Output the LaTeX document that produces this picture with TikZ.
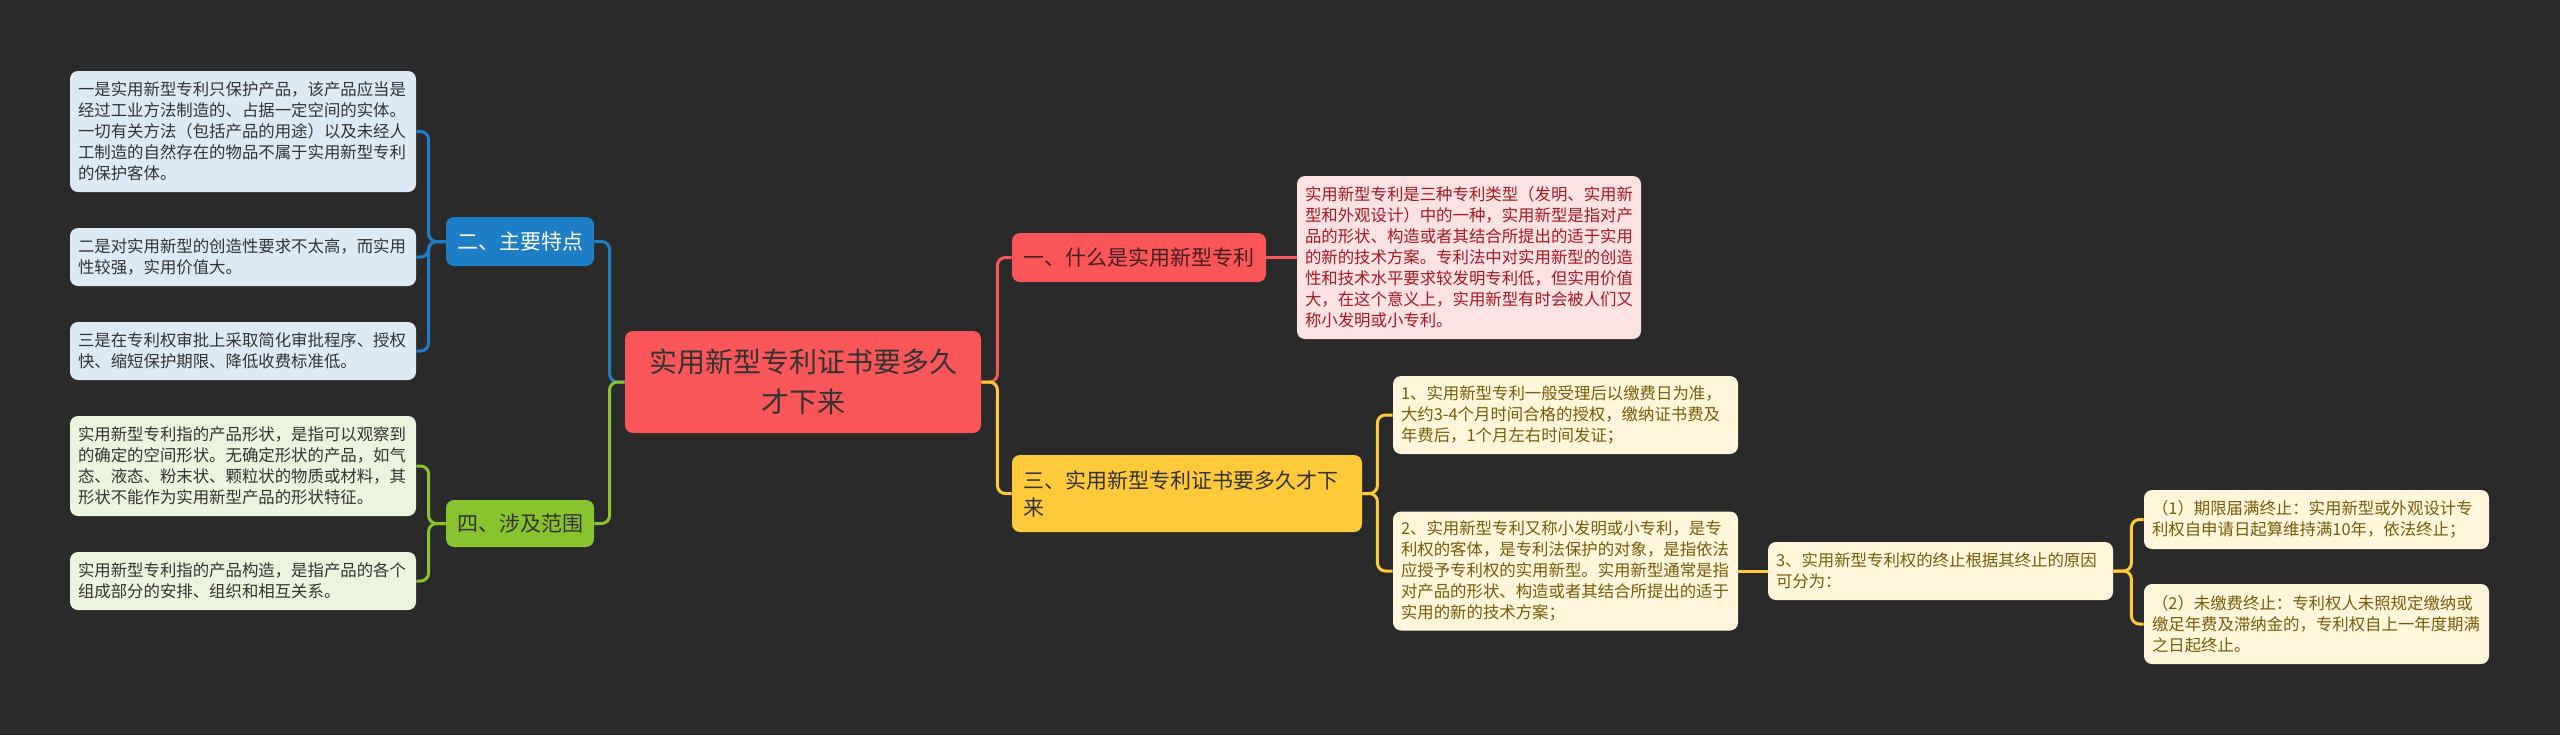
\documentclass[tikz,border=0pt]{standalone}
\usepackage{fontspec}
\setmainfont{Noto Sans CJK SC}
\definecolor{bgcol}{RGB}{42,42,42}
\definecolor{rootred}{RGB}{250,86,90}
\definecolor{bluebr}{RGB}{30,126,197}
\definecolor{greenbr}{RGB}{137,196,46}
\definecolor{yellowbr}{RGB}{255,202,58}
\definecolor{leafblue}{RGB}{220,234,246}
\definecolor{leafgreen}{RGB}{235,244,220}
\definecolor{leafpink}{RGB}{253,226,228}
\definecolor{leafcream}{RGB}{255,246,220}
\definecolor{pinktext}{RGB}{165,25,35}
\definecolor{creamtext}{RGB}{120,92,10}
\definecolor{darktext}{RGB}{51,51,51}
\definecolor{redtext}{RGB}{70,30,30}

\begin{document}
\begin{tikzpicture}[x=0.5pt,y=-0.5pt,
  leaf/.style={rounded corners=4pt,inner xsep=4pt,inner ysep=0pt,align=left,
    text width=165pt,font=\fontsize{8.2}{10.5}\selectfont},
  branch/.style={rounded corners=4pt,inner xsep=5.5pt,inner ysep=0pt,
    font=\fontsize{10.5}{13.5}\selectfont},
  link/.style={line width=1.5pt,rounded corners=4pt}]
  \fill[bgcol] (0,0) rectangle (2560,735);
  \useasboundingbox (0,0) rectangle (2560,735);
  % root
  \node (0) at (803,382) [fill=rootred,text=darktext,rounded corners=4pt,
    minimum width=178pt,minimum height=51pt,align=center,
    font=\fontsize{14}{20}\selectfont] {实用新型专利证书要多久\\才下来};
  % left side
  \node (1) at (520,241.5) [branch,fill=bluebr,text=white,minimum width=74pt,minimum height=24.5pt] {二、主要特点};
  \node (2) at (520,523.5) [branch,fill=greenbr,text=darktext,minimum width=74pt,minimum height=23.5pt] {四、涉及范围};
  \node (3) at (243,131.5) [leaf,fill=leafblue,text=darktext,minimum height=60.5pt] {一是实用新型专利只保护产品，该产品应当是\\经过工业方法制造的、占据一定空间的实体。\\一切有关方法（包括产品的用途）以及未经人\\工制造的自然存在的物品不属于实用新型专利\\的保护客体。};
  \node (4) at (243,257) [leaf,fill=leafblue,text=darktext,minimum height=29pt] {二是对实用新型的创造性要求不太高，而实用\\性较强，实用价值大。};
  \node (5) at (243,351) [leaf,fill=leafblue,text=darktext,minimum height=29pt] {三是在专利权审批上采取简化审批程序、授权\\快、缩短保护期限、降低收费标准低。};
  \node (6) at (243,466) [leaf,fill=leafgreen,text=darktext,minimum height=50pt] {实用新型专利指的产品形状，是指可以观察到\\的确定的空间形状。无确定形状的产品，如气\\态、液态、粉末状、颗粒状的物质或材料，其\\形状不能作为实用新型产品的形状特征。};
  \node (7) at (243,581) [leaf,fill=leafgreen,text=darktext,minimum height=29pt] {实用新型专利指的产品构造，是指产品的各个\\组成部分的安排、组织和相互关系。};
  % right side
  \node (8) at (1139,257.5) [branch,fill=rootred,text=redtext,minimum width=127pt,minimum height=24.5pt] {一、什么是实用新型专利};
  \node (9) at (1187,493.5) [branch,fill=yellowbr,text=darktext,align=left,text width=164pt,minimum height=38.5pt] {三、实用新型专利证书要多久才下\\来};
  \node (10) at (1469,257.5) [leaf,fill=leafpink,text=pinktext,text width=164pt,minimum height=81.5pt] {实用新型专利是三种专利类型（发明、实用新\\型和外观设计）中的一种，实用新型是指对产\\品的形状、构造或者其结合所提出的适于实用\\的新的技术方案。专利法中对实用新型的创造\\性和技术水平要求较发明专利低，但实用价值\\大，在这个意义上，实用新型有时会被人们又\\称小发明或小专利。};
  \node (11) at (1565.5,415) [leaf,fill=leafcream,text=creamtext,text width=164.5pt,minimum height=39pt] {1、实用新型专利一般受理后以缴费日为准，\\大约3-4个月时间合格的授权，缴纳证书费及\\年费后，1个月左右时间发证；};
  \node (12) at (1565.5,571) [leaf,fill=leafcream,text=creamtext,text width=164.5pt,minimum height=59.5pt] {2、实用新型专利又称小发明或小专利，是专\\利权的客体，是专利法保护的对象，是指依法\\应授予专利权的实用新型。实用新型通常是指\\对产品的形状、构造或者其结合所提出的适于\\实用的新的技术方案；};
  \node (13) at (1940.5,571) [leaf,fill=leafcream,text=creamtext,text width=164.5pt,minimum height=29pt] {3、实用新型专利权的终止根据其终止的原因\\可分为：};
  \node (14) at (2316.5,519.5) [leaf,fill=leafcream,text=creamtext,text width=164.5pt,minimum height=29.5pt] {（1）期限届满终止：实用新型或外观设计专\\利权自申请日起算维持满10年，依法终止；};
  \node (15) at (2316.5,624) [leaf,fill=leafcream,text=creamtext,text width=164.5pt,minimum height=40pt] {（2）未缴费终止：专利权人未照规定缴纳或\\缴足年费及滞纳金的，专利权自上一年度期满\\之日起终止。};
  \draw[link,bluebr] (0.west) -- ++(-15,0) |- (1.east);
  \draw[link,greenbr] (0.west) -- ++(-15,0) |- (2.east);
  \draw[link,bluebr] (1.west) -- ++(-17,0) |- (3.east);
  \draw[link,bluebr] (1.west) -- ++(-17,0) |- (4.east);
  \draw[link,bluebr] (1.west) -- ++(-17,0) |- (5.east);
  \draw[link,greenbr] (2.west) -- ++(-17,0) |- (6.east);
  \draw[link,greenbr] (2.west) -- ++(-17,0) |- (7.east);
  \draw[link,rootred] (0.east) -- ++(16,0) |- (8.west);
  \draw[link,yellowbr] (0.east) -- ++(16,0) |- (9.west);
  \draw[link,rootred] (8.east) -- (10.west);
  \draw[link,yellowbr] (9.east) -- ++(15,0) |- (11.west);
  \draw[link,yellowbr] (9.east) -- ++(15,0) |- (12.west);
  \draw[link,yellowbr] (12.east) -- (13.west);
  \draw[link,yellowbr] (13.east) -- ++(18,0) |- (14.west);
  \draw[link,yellowbr] (13.east) -- ++(18,0) |- (15.west);
\end{tikzpicture}
\end{document}
